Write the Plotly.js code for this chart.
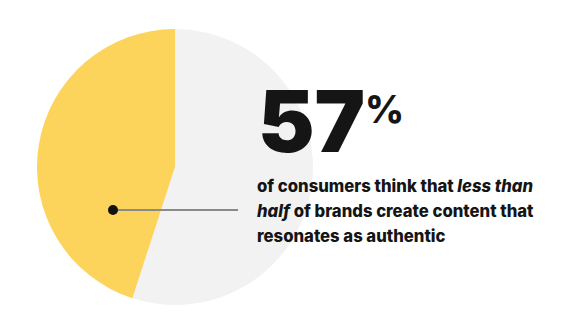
<!DOCTYPE html>
<html>
<head>
<meta charset="utf-8">
<script src="https://cdn.plot.ly/plotly-3.0.1.min.js"></script>
<style>html,body{margin:0;padding:0;background:#fff;}#chart{width:573px;height:331px;}</style>
</head>
<body>
<div id="chart"></div>
<script>
const labels = ["Less than half resonate", "Other"];
const values = [55, 45];
const colors = ["#F2F2F3", "#FCD35B"];
const headline = "57";
const headlineUnit = "%";
const bodyLines = [
  "of consumers think that <i>less than</i>",
  "<i>half</i> of brands create content that",
  "resonates as authentic"
];

const W = 573, H = 331;
const px = x => x / W;
const py = y => 1 - y / H;

const trace = {
  type: "pie",
  labels: labels,
  values: values,
  marker: {colors: colors, line: {width: 0}},
  sort: false,
  direction: "clockwise",
  rotation: 0,
  textinfo: "none",
  hoverinfo: "none",
  showlegend: false,
  domain: {x: [px(37), px(313)], y: [py(305), py(29)]}
};

const bodyFont = {family: "Inter, 'Open Sans', sans-serif", size: 16.7, color: "#151515", weight: 800};
const annotations = [
  {text: headline, x: px(257), y: py(174), xref: "paper", yref: "paper",
   xanchor: "left", yanchor: "bottom", showarrow: false, borderpad: 0,
   font: {family: "Inter, 'Open Sans', sans-serif", size: 85, color: "#151515", weight: 900}},
  {text: headlineUnit, x: px(364), y: py(85), xref: "paper", yref: "paper",
   xanchor: "left", yanchor: "top", showarrow: false, borderpad: 0,
   font: {family: "Inter, 'Open Sans', sans-serif", size: 38, color: "#151515", weight: 800}}
];
bodyLines.forEach((t, i) => {
  annotations.push({text: t, x: px(255), y: py(186 + i * 25), xref: "paper", yref: "paper",
    xanchor: "left", yanchor: "middle", showarrow: false, font: bodyFont});
});

const layout = {
  width: W, height: H,
  margin: {l: 0, r: 0, t: 0, b: 0},
  paper_bgcolor: "#fff",
  plot_bgcolor: "#fff",
  annotations: annotations,
  shapes: [
    {type: "line", xref: "paper", yref: "paper", x0: px(113), x1: px(238), y0: py(210), y1: py(210),
     line: {color: "#8a8a8a", width: 2}},
    {type: "circle", xref: "paper", yref: "paper", x0: px(108), x1: px(118), y0: py(215), y1: py(205),
     fillcolor: "#111", line: {width: 0}}
  ]
};

Plotly.newPlot("chart", [trace], layout, {staticPlot: true, displayModeBar: false});
</script>
</body>
</html>
